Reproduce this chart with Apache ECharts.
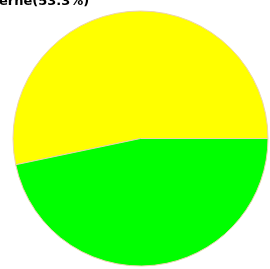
<!DOCTYPE html>
<html lang="en">
<head>
	<meta charset="UTF-8">
	<title>pie</title>
	<style>
		html, body { margin: 0; padding: 0; background: #fff; }
		#chart { width: 270px; height: 269px; }
	</style>
</head>
<body>
	<div id="chart"></div>
	<script src="https://cdn.jsdelivr.net/npm/echarts@6/dist/echarts.min.js"></script>
	<script>
		var categories = ['erne', 'other'];
		var values = [53.3, 46.7];
		var colors = ['#ffff00', '#00ff00'];

		var option = {
			animation: false,
			title: {
				text: categories[0] + '(' + values[0] + '%)',
				left: -1,
				top: -5,
				padding: 0,
				textStyle: { fontSize: 13, fontWeight: 'bold', color: '#000', fontFamily: 'DejaVu Sans' }
			},
			series: [{
				type: 'pie',
				center: [140.5, 138.5],
				radius: 127.5,
				startAngle: 0,
				clockwise: false,
				label: { show: false },
				labelLine: { show: false },
				itemStyle: { borderColor: '#ecd3ab', borderWidth: 1 },
				data: categories.map(function(c, i) {
					return { name: c, value: values[i], itemStyle: { color: colors[i] } };
				})
			}]
		};

		var myChart = echarts.init(document.getElementById('chart'));
		myChart.setOption(option);
	</script>
</body>
</html>
